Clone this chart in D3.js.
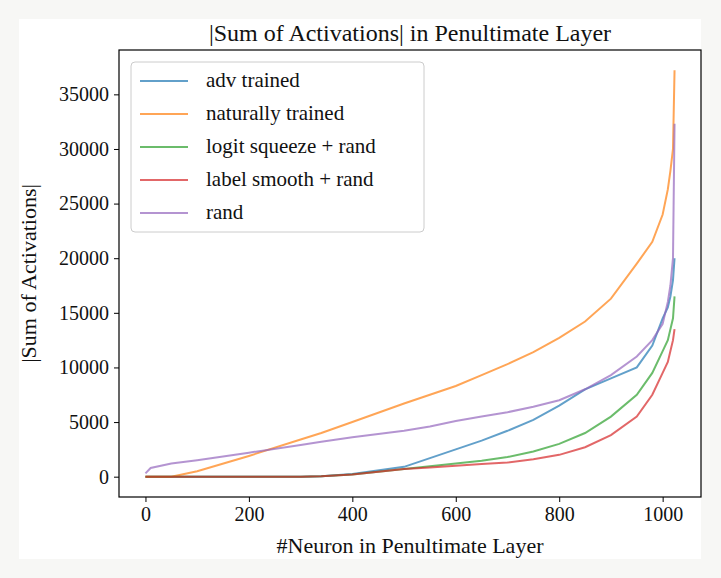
<!DOCTYPE html>
<html lang="en">
<head>
<meta charset="UTF-8">
<title>Sum of Activations</title>
<style>
body { margin: 0; background: #f7f7f5; }
text { font-family: "Liberation Serif", "DejaVu Serif", serif; fill: #111; }
.axis text { font-size: 20px; }
.axis path, .axis line { stroke: #000; }
</style>
</head>
<body>
<script src="https://cdnjs.cloudflare.com/ajax/libs/d3/7.8.5/d3.min.js"></script>
<script>
var xs = [0, 10, 50, 100, 200, 300, 340, 400, 500, 550, 600, 650, 700, 750, 800, 850, 900, 950, 980, 1000, 1010, 1015, 1020, 1023];
var advTrained = [0, 0, 0, 0, 0, 0, 50, 250, 900, 1700, 2500, 3300, 4200, 5200, 6500, 8000, 9000, 10000, 12000, 14500, 15500, 16500, 18000, 20000];
var natTrained = [0, 0, 0, 500, 1900, 3400, 4000, 5000, 6700, 7500, 8300, 9300, 10300, 11400, 12700, 14200, 16300, 19500, 21500, 24000, 26300, 28000, 30000, 37200];
var logitSqueeze = [0, 0, 0, 0, 0, 0, 50, 200, 700, 950, 1200, 1450, 1800, 2300, 3000, 4000, 5500, 7500, 9500, 11500, 12500, 13500, 14500, 16500];
var labelSmooth = [0, 0, 0, 0, 0, 0, 50, 200, 700, 850, 1000, 1150, 1300, 1600, 2000, 2700, 3800, 5500, 7500, 9500, 10500, 11500, 12500, 13500];
var rand = [300, 800, 1200, 1500, 2200, 2900, 3200, 3600, 4200, 4600, 5100, 5500, 5900, 6400, 7000, 8000, 9300, 11000, 12500, 14000, 16000, 17500, 20000, 32300];
var seriesNames = ["adv trained", "naturally trained", "logit squeeze + rand", "label smooth + rand", "rand"];
var seriesVals = [advTrained, natTrained, logitSqueeze, labelSmooth, rand];
var colors = ["#1f77b4", "#ff7f0e", "#2ca02c", "#d62728", "#9467bd"];
var xTicks = [0, 200, 400, 600, 800, 1000];
var yTicks = [0, 5000, 10000, 15000, 20000, 25000, 30000, 35000];

var W = 721, H = 578;
var m = { left: 119, top: 50, right: 701, bottom: 497 };
var svg = d3.select("body").append("svg").attr("width", W).attr("height", H);
svg.append("rect").attr("x", 19).attr("y", 19).attr("width", 682).attr("height", 540).attr("fill", "#fff");

var x = d3.scaleLinear().domain([-51.15, 1074.15]).range([m.left, m.right]);
var y = d3.scaleLinear().domain([-1860, 39060]).range([m.bottom, m.top]);

svg.append("g").attr("class", "axis").attr("transform", "translate(0," + m.bottom + ")")
  .call(d3.axisBottom(x).tickValues(xTicks).tickSize(5).tickPadding(5).tickFormat(d3.format("d")))
  .call(g => g.select(".domain").remove());
svg.append("g").attr("class", "axis").attr("transform", "translate(" + m.left + ",0)")
  .call(d3.axisLeft(y).tickValues(yTicks).tickSize(5).tickPadding(5).tickFormat(d3.format("d")))
  .call(g => g.select(".domain").remove());

var line = d3.line().x((d, i) => x(xs[i])).y(d => y(d));
seriesVals.forEach(function (vals, k) {
  svg.append("path").datum(vals).attr("d", line)
    .attr("fill", "none").attr("stroke", colors[k]).attr("stroke-width", 2).attr("stroke-opacity", 0.7);
});

svg.append("rect").attr("x", m.left).attr("y", m.top)
  .attr("width", m.right - m.left).attr("height", m.bottom - m.top)
  .attr("fill", "none").attr("stroke", "#000").attr("stroke-width", 1.2);

// legend
var lg = svg.append("g");
lg.append("rect").attr("x", 131).attr("y", 62).attr("width", 293).attr("height", 170).attr("rx", 4)
  .attr("fill", "#fff").attr("fill-opacity", 0.8).attr("stroke", "#ccc");
seriesNames.forEach(function (n, k) {
  var yy = 81 + k * 33;
  lg.append("line").attr("x1", 140).attr("x2", 188).attr("y1", yy).attr("y2", yy)
    .attr("stroke", colors[k]).attr("stroke-width", 2).attr("stroke-opacity", 0.7);
  lg.append("text").attr("x", 206).attr("y", yy + 6).attr("font-size", 21).text(n);
});

svg.append("text").attr("x", (m.left + m.right) / 2).attr("y", 41).attr("text-anchor", "middle")
  .attr("font-size", 24).text("|Sum of Activations| in Penultimate Layer");
svg.append("text").attr("x", (m.left + m.right) / 2).attr("y", 553).attr("text-anchor", "middle")
  .attr("font-size", 22).text("#Neuron in Penultimate Layer");
svg.append("text").attr("transform", "translate(36," + (m.top + m.bottom) / 2 + ") rotate(-90)")
  .attr("text-anchor", "middle").attr("font-size", 22).text("|Sum of Activations|");
</script>
</body>
</html>
